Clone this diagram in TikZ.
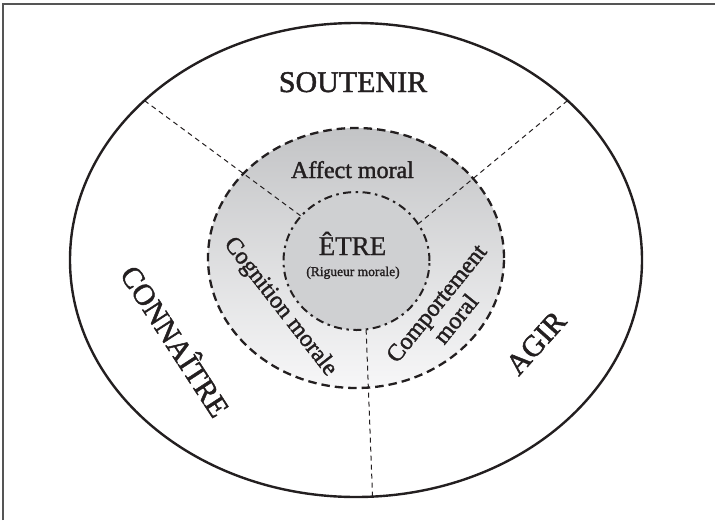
\documentclass[tikz,border=0pt]{standalone}
\usepackage{fontspec}
\setmainfont{Liberation Serif}
\newfontfamily\semib[FakeBold=1.6]{Liberation Serif}
\newfontfamily\medw[FakeBold=0.8]{Liberation Serif}
\usetikzlibrary{shapes.geometric}

\definecolor{ringtop}{HTML}{C3C4C6}
\definecolor{ringbot}{HTML}{F7F7F8}
\definecolor{corefill}{HTML}{CFD0D2}
\definecolor{framegray}{HTML}{555555}
\definecolor{ink}{HTML}{231F20}

\tikzset{
  zone/.style={ellipse, inner sep=0pt, outer sep=0pt},
  outerzone/.style={zone, draw=ink, line width=2.4pt},
  ringzone/.style={zone, draw=ink, line width=2.3pt,
    dash pattern=on 8.5pt off 5pt, top color=ringtop, bottom color=ringbot},
  corezone/.style={zone, draw=ink, line width=2pt,
    dash pattern=on 8pt off 4.5pt on 2.5pt off 4.5pt, fill=corefill},
  divider/.style={draw=ink, line width=1pt, dash pattern=on 5pt off 4pt},
  biglabel/.style={font=\semib\fontsize{30}{32}\selectfont, text=ink, inner sep=0pt},
  midlabel/.style={font=\semib\fontsize{24}{25}\selectfont, text=ink, inner sep=0pt, align=center},
}

\begin{document}
\begin{tikzpicture}[x=1pt, y=-1pt]
  \useasboundingbox (0,0) rectangle (715,520);

  % page frame (top and left edges)
  \draw[framegray, line width=1.2pt] (3,520) -- (3,4) -- (715,4);

  % the three nested zones
  \node[outerzone, minimum width=572pt, minimum height=474pt] (outer) at (356,260) {};
  \node[ringzone,  minimum width=296pt, minimum height=260pt] (ring)  at (356,258) {};
  \node[corezone,  minimum width=146pt, minimum height=138pt] (core)  at (356.5,261) {};

  % dashed dividers between the three domains
  \draw[divider] (outer.143.6) -- (core.141);
  \draw[divider] (outer.37.4)  -- (core.31);
  \draw[divider] (outer.-86.1) -- (core.-82.2);

  % labels
  \node[biglabel, anchor=base] (soutenir) at (353,92) {SOUTENIR};
  \node[biglabel, rotate=-57] (connaitre) at (177,340) {CONNAÎTRE};
  \node[biglabel, rotate=48] (agir) at (536,343) {AGIR};

  \node[midlabel, anchor=base] (affect) at (352.5,178) {Affect moral};
  \node[midlabel, rotate=-52] (cognition) at (280,307) {Cognition morale};
  \node[midlabel, rotate=51] (comportement) at (446,311) {Comportement\\moral};

  \node[font=\medw\fontsize{27}{28}\selectfont, text=ink, inner sep=0pt, anchor=base] (etre) at (352.5,255) {ÊTRE};
  \node[font=\semib\fontsize{13.5}{15}\selectfont, text=ink, inner sep=0pt, anchor=base] (rigueur) at (353,276) {(Rigueur morale)};
\end{tikzpicture}
\end{document}
